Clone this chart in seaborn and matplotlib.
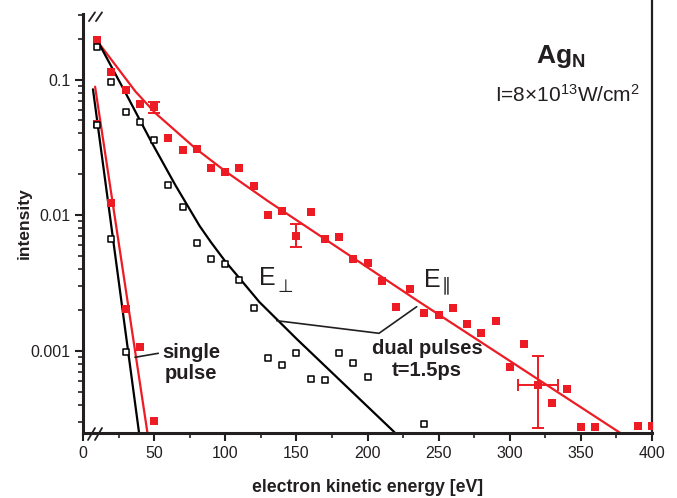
import numpy as np
import pandas as pd
import matplotlib
matplotlib.use("Agg")
import matplotlib.pyplot as plt
from matplotlib.ticker import FixedLocator, LogLocator, NullFormatter, MultipleLocator
import seaborn as sns

# dual pulses, E parallel (red filled squares)
par_energy = [10, 20, 30, 40, 50, 60, 70, 80, 90, 100, 110, 120, 130, 140, 150,
              160, 170, 180, 190, 200, 210, 220, 230, 240, 250, 260, 270, 280,
              290, 300, 310, 320, 330, 340, 350, 360, 390, 400]
par_int = [0.195, 0.114, 0.083, 0.0655, 0.0624, 0.0370, 0.0300, 0.0310, 0.0224,
           0.0208, 0.0223, 0.0163, 0.0101, 0.0107, 0.00706, 0.0106, 0.00664,
           0.0069, 0.00478, 0.00444, 0.00329, 0.00212, 0.00284, 0.00191,
           0.00184, 0.00208, 0.00158, 0.00135, 0.00166, 0.000757, 0.00113,
           0.000564, 0.000415, 0.000524, 0.000276, 0.000276, 0.00028, 0.00028]

# dual pulses, E perpendicular (black open squares)
perp_energy = [10, 20, 30, 40, 50, 60, 70, 80, 90, 100, 110, 120, 130, 140,
               150, 160, 170, 180, 190, 200, 240]
perp_int = [0.1745, 0.0959, 0.0573, 0.0489, 0.0357, 0.0168, 0.0114, 0.0062,
            0.00478, 0.00437, 0.00334, 0.00206, 0.000883, 0.000783, 0.000962,
            0.000618, 0.000611, 0.000962, 0.000811, 0.000647, 0.000289]

# single pulse
single_par_energy = [10, 20, 30, 40, 50]
single_par_int = [0.0468, 0.01236, 0.00204, 0.00106, 0.000304]
single_perp_energy = [10, 20, 30]
single_perp_int = [0.0460, 0.00668, 0.00098]

# fit curves (knots)
fit_par_x = [11, 37, 51, 79, 100, 130, 236, 378]
fit_par_y = [0.186, 0.0813, 0.0564, 0.0311, 0.0211, 0.0127, 0.00231, 0.000247]
fit_perp_x = [11, 30, 48, 65, 82, 90, 100, 112, 124, 150, 219]
fit_perp_y = [0.186, 0.0794, 0.0348, 0.0166, 0.00832, 0.00631, 0.00457, 0.00324,
              0.00229, 0.00123, 0.000251]
fit_single_par_x = [8.5, 45.3]
fit_single_par_y = [0.0885, 0.000249]
fit_single_perp_x = [7.0, 39.4]
fit_single_perp_y = [0.0847, 0.000249]

# error bars: energy, intensity, y-low, y-high, x-err
err_energy = [50, 150, 320]
err_int = [0.0624, 0.00706, 0.000564]
err_low = [0.0564, 0.00586, 0.000272]
err_high = [0.0679, 0.0086, 0.000916]
err_x = [0, 0, 14]

RED = "#ed1c24"
INK = "#231f20"

sns.set_style("ticks")
plt.rcParams["font.family"] = ["Liberation Sans", "DejaVu Sans"]
plt.rcParams["mathtext.fontset"] = "custom"
plt.rcParams["mathtext.rm"] = "Liberation Sans"
plt.rcParams["mathtext.it"] = "Liberation Sans:italic"
plt.rcParams["mathtext.bf"] = "Liberation Sans:bold"
plt.rcParams["mathtext.fallback"] = "stixsans"

fig = plt.figure(figsize=(6.77, 4.98), dpi=100)
ax = fig.add_axes([83 / 677, 1 - 433 / 498, 569 / 677, 419 / 498])

# fit lines
for fx, fy, c in [(fit_par_x, fit_par_y, RED), (fit_perp_x, fit_perp_y, "black"),
                  (fit_single_par_x, fit_single_par_y, RED),
                  (fit_single_perp_x, fit_single_perp_y, "black")]:
    sns.lineplot(x=fx, y=fy, color=c, lw=1.6, sort=False, estimator=None, ax=ax, zorder=2)

# error bars
yerr = [np.array(err_int) - np.array(err_low), np.array(err_high) - np.array(err_int)]
ax.errorbar(err_energy, err_int, yerr=yerr, xerr=err_x, fmt="none", ecolor=RED,
            elinewidth=1.4, capsize=4, capthick=1.4, zorder=3)

# points
sns.scatterplot(x=par_energy + single_par_energy, y=par_int + single_par_int,
                marker="s", s=38, color=RED, edgecolor=RED, linewidth=0, ax=ax, zorder=4)
sns.scatterplot(x=perp_energy + single_perp_energy, y=perp_int + single_perp_int,
                marker="s", s=24, facecolors="white", edgecolors="black",
                linewidth=1.1, ax=ax, zorder=4)

ax.set_yscale("log")
ax.set_xlim(0, 400)
ax.set_ylim(2.48e-4, 0.304)

ax.xaxis.set_major_locator(MultipleLocator(50))
ax.xaxis.set_minor_locator(MultipleLocator(25))
ax.yaxis.set_major_locator(FixedLocator([0.001, 0.01, 0.1]))
ax.set_yticklabels(["0.001", "0.01", "0.1"])
ax.yaxis.set_minor_locator(LogLocator(base=10, subs=np.arange(2, 10)))
ax.yaxis.set_minor_formatter(NullFormatter())

ax.tick_params(which="major", direction="out", length=6, width=1.5,
               labelsize=11.5, colors=INK, pad=3)
ax.tick_params(which="minor", direction="out", length=3.5, width=1.2, colors=INK)

for s in ["left", "bottom"]:
    ax.spines[s].set_linewidth(2.2)
    ax.spines[s].set_color(INK)
ax.spines["top"].set_visible(False)
ax.spines["right"].set_visible(False)
ax.plot([1, 1], [0, 1.035], transform=ax.transAxes, color=INK, lw=1.6, clip_on=False)

ax.set_xlabel("electron kinetic energy [eV]", fontsize=12.7, fontweight="bold",
              color=INK, labelpad=13)
ax.set_ylabel("intensity", fontsize=12.5, fontweight="bold", color=INK, labelpad=-1)

# axis break marks
for dx in [0, 7 / 569]:
    ax.plot([0.0088 + dx, 0.0211 + dx], [-0.0167, 0.0119], transform=ax.transAxes,
            color=INK, lw=1.3, clip_on=False)
    ax.plot([0.0105 + dx, 0.0211 + dx], [0.983, 1.004], transform=ax.transAxes,
            color=INK, lw=1.3, clip_on=False)


def px(xp, yp):
    return (xp - 83) / 569, (433 - yp) / 419


# texts
ax.text(*px(536, 63), r"Ag$_\mathbf{N}$", transform=ax.transAxes, fontsize=19,
        fontweight="bold", color=INK, ha="left", va="baseline")
ax.text(*px(495, 101.7), r"I=8×10$^{13}$W/cm$^{2}$", transform=ax.transAxes,
        fontsize=15, color=INK, ha="left", va="baseline")
ax.text(*px(259, 285), "E", transform=ax.transAxes, fontsize=18,
        color=INK, ha="left", va="baseline")
ax.text(*px(277, 292), "⊥", transform=ax.transAxes, fontsize=13,
        color=INK, ha="left", va="baseline")
ax.text(*px(424, 287), "E", transform=ax.transAxes, fontsize=18,
        color=INK, ha="left", va="baseline")
ax.text(*px(442, 290), "∥", transform=ax.transAxes, fontsize=13,
        color=INK, ha="left", va="baseline")

ax.text(*px(191, 358), "single", transform=ax.transAxes,
        fontsize=14.5, fontweight="bold", color=INK, ha="center", va="baseline")
ax.text(*px(191, 379), "pulse", transform=ax.transAxes,
        fontsize=14.5, fontweight="bold", color=INK, ha="center", va="baseline")
ax.text(*px(427, 354), "dual pulses", transform=ax.transAxes,
        fontsize=14.5, fontweight="bold", color=INK, ha="center", va="baseline")
ax.text(*px(427, 376), "t=1.5ps", transform=ax.transAxes,
        fontsize=14.5, fontweight="bold", color=INK, ha="center", va="baseline")

# leader lines
lx, ly = zip(px(135, 357.3), px(158.3, 353.3))
ax.plot(lx, ly, transform=ax.transAxes, color=INK, lw=1.2)
lx, ly = zip(px(276.7, 320.7), px(379, 333.3), px(416.7, 306.7))
ax.plot(lx, ly, transform=ax.transAxes, color=INK, lw=1.2)

fig.savefig("out.png", dpi=100)
